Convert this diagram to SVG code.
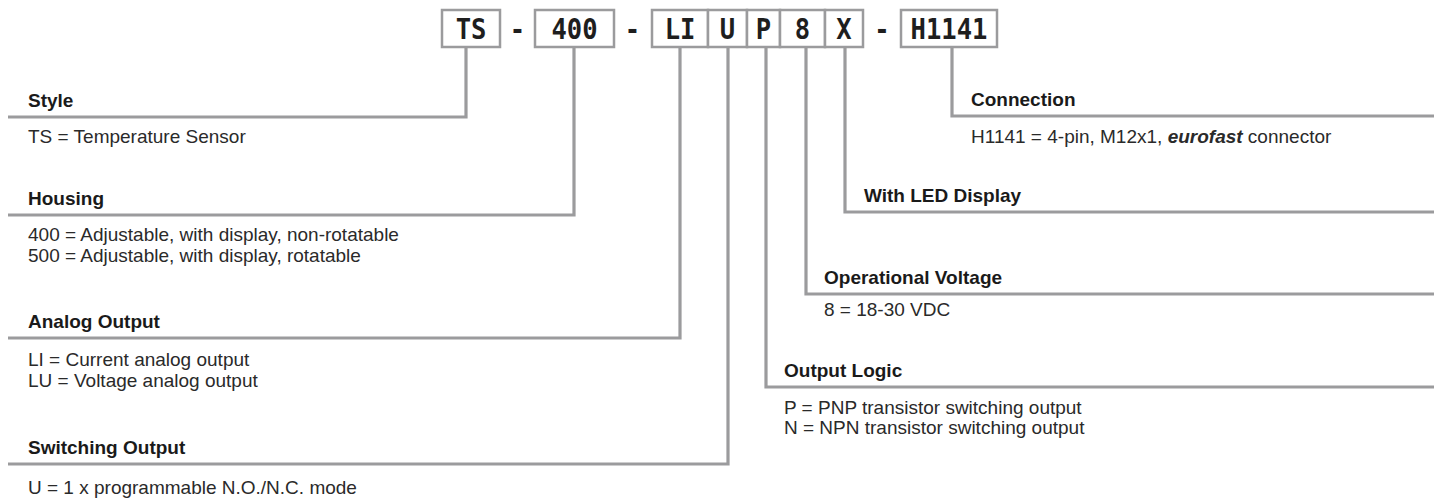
<svg xmlns="http://www.w3.org/2000/svg" width="1434" height="500" viewBox="0 0 1434 500">
<style>
.box{fill:#fff;stroke:#9b9b9d;stroke-width:2.5}
.code{font-family:"DejaVu Sans Mono","Liberation Mono",monospace;font-weight:bold;font-size:29px;fill:#1e1e1e;text-anchor:middle}
.con{fill:none;stroke:#9b9b9d;stroke-width:3.2;stroke-linejoin:miter;stroke-linecap:butt}
.h{font-family:"Liberation Sans",Arial,sans-serif;font-weight:bold;font-size:19px;fill:#1a1a1a}
.t{font-family:"Liberation Sans",Arial,sans-serif;font-size:19px;fill:#2a2a2a}
</style>
<rect width="1434" height="500" fill="#fff"/>
<g id="connectors">
<path class="con" d="M466,47 V117 H8"/>
<path class="con" d="M574,47 V215 H8"/>
<path class="con" d="M680,47 V338 H8"/>
<path class="con" d="M728,47 V464 H8"/>
<path class="con" d="M766,47 V387 H1434"/>
<path class="con" d="M806,47 V294 H1434"/>
<path class="con" d="M845,47 V212 H1434"/>
<path class="con" d="M952,47 V116 H1434"/>
</g>
<g id="code">
<rect class="box" x="442" y="10" width="58" height="37"/>
<text class="code" transform="translate(471,39) scale(0.88,1)">TS</text>
<text class="code" transform="translate(517.5,39) scale(0.88,1)">-</text>
<rect class="box" x="535" y="10" width="79" height="37"/>
<text class="code" transform="translate(574.5,39) scale(0.88,1)">400</text>
<text class="code" transform="translate(632.5,39) scale(0.88,1)">-</text>
<rect class="box" x="652" y="10" width="56" height="37"/>
<text class="code" transform="translate(680,39) scale(0.88,1)">LI</text>
<rect class="box" x="708" y="10" width="39" height="37"/>
<text class="code" transform="translate(727.5,39) scale(0.88,1)">U</text>
<rect class="box" x="747" y="10" width="33" height="37"/>
<text class="code" transform="translate(763.5,39) scale(0.88,1)">P</text>
<rect class="box" x="780" y="10" width="45" height="37"/>
<text class="code" transform="translate(802.5,39) scale(0.88,1)">8</text>
<rect class="box" x="825" y="10" width="38" height="37"/>
<text class="code" transform="translate(844,39) scale(0.88,1)">X</text>
<text class="code" transform="translate(882,39) scale(0.88,1)">-</text>
<rect class="box" x="901" y="10" width="96" height="37"/>
<text class="code" transform="translate(949,39) scale(0.88,1)">H1141</text>
</g>
<g id="style">
<text class="h" x="28" y="107">Style</text>
<text class="t" x="28" y="143">TS = Temperature Sensor</text>
</g>
<g id="housing">
<text class="h" x="28" y="205">Housing</text>
<text class="t" x="28" y="241">400 = Adjustable, with display, non-rotatable</text>
<text class="t" x="28" y="262">500 = Adjustable, with display, rotatable</text>
</g>
<g id="analog">
<text class="h" x="28" y="328">Analog Output</text>
<text class="t" x="28" y="366">LI = Current analog output</text>
<text class="t" x="28" y="387">LU = Voltage analog output</text>
</g>
<g id="switching">
<text class="h" x="28" y="454">Switching Output</text>
<text class="t" x="28" y="494">U = 1 x programmable N.O./N.C. mode</text>
</g>
<g id="outputlogic">
<text class="h" x="784" y="377">Output Logic</text>
<text class="t" x="784" y="414">P = PNP transistor switching output</text>
<text class="t" x="784" y="434">N = NPN transistor switching output</text>
</g>
<g id="voltage">
<text class="h" x="824" y="284">Operational Voltage</text>
<text class="t" x="824" y="316">8 = 18-30 VDC</text>
</g>
<g id="led">
<text class="h" x="864" y="202">With LED Display</text>
</g>
<g id="connection">
<text class="h" x="971" y="106">Connection</text>
<text class="t" x="971" y="143">H1141 = 4-pin, M12x1, <tspan font-weight="bold" font-style="italic">eurofast</tspan> connector</text>
</g>
</svg>
